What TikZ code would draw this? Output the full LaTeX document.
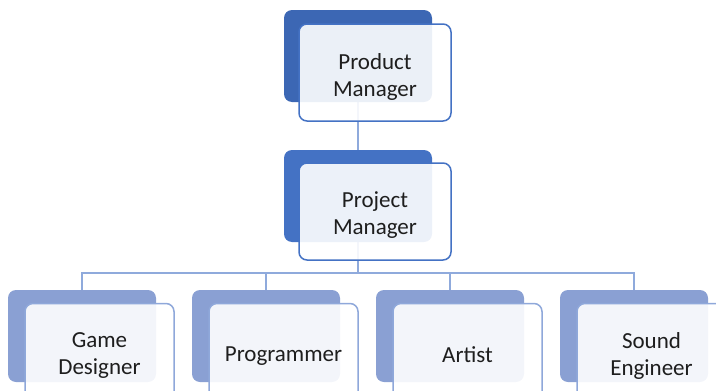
\documentclass[tikz,border=0pt]{standalone}
\usepackage{fontspec}
\setmainfont{Carlito}
\definecolor{topblue}{HTML}{3C67B4}
\definecolor{midblue}{HTML}{4472C4}
\definecolor{lowblue}{HTML}{8AA0D3}
\definecolor{lowline}{HTML}{8FA8DA}
\definecolor{linkblue}{HTML}{8FAADC}
\definecolor{inkgray}{HTML}{1E1E1E}
\begin{document}
\begin{tikzpicture}[x=1pt,y=-1pt,
  backbox/.style={draw=none, rounded corners=8pt, minimum width=148pt, minimum height=92pt, inner sep=0pt},
  frontbox/.style={rounded corners=8pt, fill=white, fill opacity=0.9,
    line width=1.5pt, inner sep=0pt},
  upper/.style={frontbox, draw=midblue, minimum width=152pt, minimum height=97pt},
  lower/.style={frontbox, draw=lowline, minimum width=149pt, minimum height=97pt},
  role/.style={align=center, text=inkgray, inner sep=0pt,
    font=\fontsize{23}{27}\selectfont},
  link/.style={draw=linkblue, line width=1.3pt}]
\useasboundingbox (0,0) rectangle (716,391);
\clip (0,0) rectangle (716,391);

% rear plates (first pass fixes the anchors for the connectors)
\path (358,56) node[backbox] (pmb) {};
\path (358,196) node[backbox] (prb) {};
\path (82,336) node[backbox] (gdb) {};
\path (266,336) node[backbox] (pgb) {};
\path (450,336) node[backbox] (arb) {};
\path (634,336) node[backbox] (seb) {};
\coordinate (bus) at (358,273);

% connectors, drawn under the plates
\path[link] (pmb.center) -- (prb.center);
\path[link] (prb.center) -- (bus);
\path[link] (bus) -| (gdb.center);
\path[link] (bus) -| (pgb.center);
\path[link] (bus) -| (arb.center);
\path[link] (bus) -| (seb.center);

% filled plates on top of the connectors
\node[backbox, fill=topblue] at (pmb) {};
\node[backbox, fill=midblue] at (prb) {};
\node[backbox, fill=lowblue] at (gdb) {};
\node[backbox, fill=lowblue] at (pgb) {};
\node[backbox, fill=lowblue] at (arb) {};
\node[backbox, fill=lowblue] at (seb) {};

% front cards
\node[upper] (pmf) at (375,72.5) {};
\node[upper] (prf) at (375,211.5) {};
\node[lower] (gdf) at (99.5,352) {};
\node[lower] (pgf) at (283.5,352) {};
\node[lower] (arf) at (467.5,352) {};
\node[lower] (sef) at (651.5,352) {};

% role names
\node[role] (pmt) at ([yshift=-4pt]pmf.center) {Product\\Manager};
\node[role] (prt) at ([yshift=-4pt]prf.center) {Project\\Manager};
\node[role] (gdt) at ([yshift=-4pt]gdf.center) {Game\\Designer};
\node[role] (pgt) at ([yshift=-4pt]pgf.center) {Programmer};
\node[role] (art) at ([yshift=-3pt]arf.center) {Artist};
\node[role] (set) at ([yshift=-4pt]sef.center) {Sound\\Engineer};
\end{tikzpicture}
\end{document}
